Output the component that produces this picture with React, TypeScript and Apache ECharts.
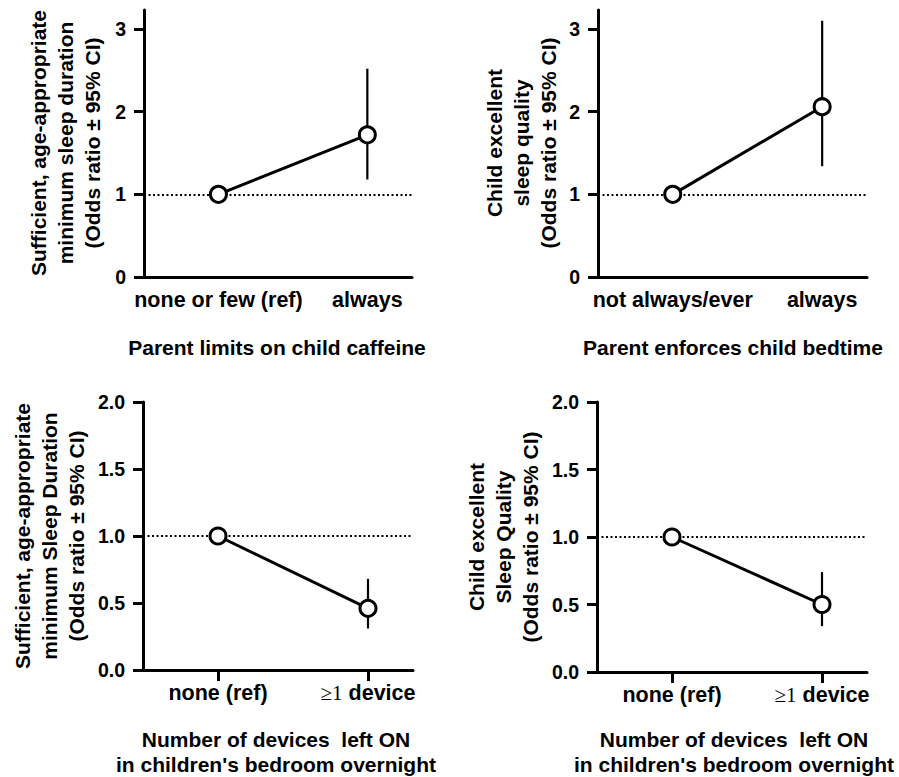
import React, { useEffect, useRef } from "react";
import * as echarts from "echarts";

// ---- Data ----
const caffeineCategories = ["none or few (ref)", "always"];
const caffeineOR = [1, 1.72];
const caffeineLow = [null, 1.18];
const caffeineHigh = [null, 2.52];

const bedtimeCategories = ["not always/ever", "always"];
const bedtimeOR = [1, 2.06];
const bedtimeLow = [null, 1.34];
const bedtimeHigh = [null, 3.1];

const devicesCategories = ["none (ref)", "≥1 device"];
const durationOR = [1, 0.46];
const durationLow = [null, 0.31];
const durationHigh = [null, 0.68];

const qualityOR = [1, 0.5];
const qualityLow = [null, 0.34];
const qualityHigh = [null, 0.74];

const topYTicks = [0, 1, 2, 3];

const FONT = "'Liberation Sans', Arial, Helvetica, sans-serif";

type Panel = {
  cats: string[];
  or: number[];
  low: (number | null)[];
  high: (number | null)[];
  yTitle: string;
  xTitle: string;
  grid: { left: number; top: number; width: number; height: number };
  yMax: number;
  yInterval: number;
  yTicks: number[] | null;
  decimals: number;
  xTicks: boolean;
  yTitlePos: [number, number];
  xTitlePos: [number, number];
};

const panels: Panel[] = [
  {
    cats: caffeineCategories,
    or: caffeineOR,
    low: caffeineLow,
    high: caffeineHigh,
    yTitle: "Sufficient, age-appropriate\nminimum sleep duration\n(Odds ratio ± 95% CI)",
    xTitle: "Parent limits on child caffeine",
    grid: { left: 144, top: 10, width: 268, height: 267 },
    yMax: 3.23,
    yInterval: 1,
    yTicks: topYTicks,
    decimals: 0,
    xTicks: false,
    yTitlePos: [65, 143],
    xTitlePos: [277, 347],
  },
  {
    cats: bedtimeCategories,
    or: bedtimeOR,
    low: bedtimeLow,
    high: bedtimeHigh,
    yTitle: "Child excellent\nsleep quality\n(Odds ratio ± 95% CI)",
    xTitle: "Parent enforces child bedtime",
    grid: { left: 598, top: 10, width: 269, height: 267 },
    yMax: 3.23,
    yInterval: 1,
    yTicks: topYTicks,
    decimals: 0,
    xTicks: false,
    yTitlePos: [521, 143],
    xTitlePos: [733, 347],
  },
  {
    cats: devicesCategories,
    or: durationOR,
    low: durationLow,
    high: durationHigh,
    yTitle: "Sufficient, age-appropriate\nminimum Sleep Duration\n(Odds ratio ± 95% CI)",
    xTitle: "Number of devices  left ON\nin children's bedroom overnight",
    grid: { left: 143, top: 402, width: 270, height: 268 },
    yMax: 2,
    yInterval: 0.5,
    yTicks: null,
    decimals: 1,
    xTicks: true,
    yTitlePos: [49, 536],
    xTitlePos: [276, 752],
  },
  {
    cats: devicesCategories,
    or: qualityOR,
    low: qualityLow,
    high: qualityHigh,
    yTitle: "Child excellent\nSleep Quality\n(Odds ratio ± 95% CI)",
    xTitle: "Number of devices  left ON\nin children's bedroom overnight",
    grid: { left: 597, top: 402, width: 270, height: 270 },
    yMax: 2,
    yInterval: 0.5,
    yTicks: null,
    decimals: 1,
    xTicks: true,
    yTitlePos: [503, 537],
    xTitlePos: [734, 752],
  },
];

function buildOption() {
  const grids: any[] = [];
  const xAxes: any[] = [];
  const yAxes: any[] = [];
  const series: any[] = [];
  const graphics: any[] = [];

  panels.forEach((p, i) => {
    grids.push({ ...p.grid, containLabel: false });
    xAxes.push({
      type: "value",
      gridIndex: i,
      min: -0.5,
      max: 1.3,
      splitLine: { show: false },
      axisLine: { show: true, onZero: false, lineStyle: { color: "#000", width: 3 } },
      axisTick: {
        show: p.xTicks,
        customValues: [0, 1],
        length: 11,
        lineStyle: { color: "#000", width: 3 },
      },
      axisLabel: {
        customValues: [0, 1],
        margin: 12,
        color: "#000",
        fontFamily: FONT,
        fontWeight: "bold",
        fontSize: 21.5,
        formatter: (v: number) => {
          const s = p.cats[Math.round(v)] ?? "";
          return s.startsWith("≥") ? "{s|≥1}" + s.slice(2) : s;
        },
        rich: {
          s: {
            fontFamily: "'Liberation Serif', 'Times New Roman', serif",
            fontWeight: "normal",
            fontSize: 21,
            color: "#000",
          },
        },
      },
    });
    const yTickCfg: any = { show: true, length: 10, lineStyle: { color: "#000", width: 3 } };
    const yLabelCfg: any = {
      margin: 18,
      color: "#000",
      fontFamily: FONT,
      fontWeight: "bold",
      fontSize: 19.5,
      formatter: (v: number) => v.toFixed(p.decimals),
    };
    if (p.yTicks) {
      yTickCfg.customValues = p.yTicks;
      yLabelCfg.customValues = p.yTicks;
    }
    yAxes.push({
      type: "value",
      gridIndex: i,
      min: 0,
      max: p.yMax,
      interval: p.yInterval,
      splitLine: { show: false },
      axisLine: { show: true, onZero: false, lineStyle: { color: "#000", width: 3 } },
      axisTick: yTickCfg,
      axisLabel: yLabelCfg,
    });

    const ciData = p.or
      .map((_, k) => [k, p.low[k], p.high[k]])
      .filter((d) => d[1] != null && d[2] != null);

    series.push({
      type: "custom",
      xAxisIndex: i,
      yAxisIndex: i,
      z: 2,
      encode: { x: 0, y: [1, 2] },
      data: ciData,
      renderItem: (_params: any, api: any) => {
        const a = api.coord([api.value(0), api.value(1)]);
        const b = api.coord([api.value(0), api.value(2)]);
        return {
          type: "line",
          shape: { x1: a[0], y1: a[1], x2: b[0], y2: b[1] },
          style: { stroke: "#000", lineWidth: 2.2 },
        };
      },
    });

    series.push({
      type: "line",
      xAxisIndex: i,
      yAxisIndex: i,
      z: 3,
      data: p.or.map((v, k) => [k, v]),
      symbol: "circle",
      symbolSize: 16,
      showSymbol: true,
      lineStyle: { color: "#000", width: 3 },
      itemStyle: { color: "#fff", borderColor: "#000", borderWidth: 3 },
      markLine: {
        silent: true,
        symbol: ["none", "none"],
        label: { show: false },
        lineStyle: { color: "#000", width: 2, type: [2, 2.5] },
        data: [{ yAxis: 1 }],
        z: 1,
      },
    });

    graphics.push({
      type: "text",
      x: p.yTitlePos[0],
      y: p.yTitlePos[1],
      rotation: Math.PI / 2,
      style: {
        text: p.yTitle,
        fill: "#000",
        font: `bold 21px ${FONT}`,
        textAlign: "center",
        textVerticalAlign: "middle",
        lineHeight: 27,
      },
    });
    graphics.push({
      type: "text",
      x: p.xTitlePos[0],
      y: p.xTitlePos[1],
      style: {
        text: p.xTitle,
        fill: "#000",
        font: `bold 21px ${FONT}`,
        textAlign: "center",
        textVerticalAlign: "middle",
        lineHeight: 25,
      },
    });
  });

  return {
    animation: false,
    backgroundColor: "#fff",
    grid: grids,
    xAxis: xAxes,
    yAxis: yAxes,
    series,
    graphic: graphics,
  };
}

export default function App() {
  const ref = useRef<HTMLDivElement>(null);
  useEffect(() => {
    if (!ref.current) return;
    const chart = echarts.init(ref.current, undefined, { renderer: "svg" });
    chart.setOption(buildOption() as any);
    return () => chart.dispose();
  }, []);
  return (
    <div
      ref={ref}
      style={{ position: "absolute", left: 0, top: 0, width: 899, height: 777, background: "#fff" }}
    />
  );
}
